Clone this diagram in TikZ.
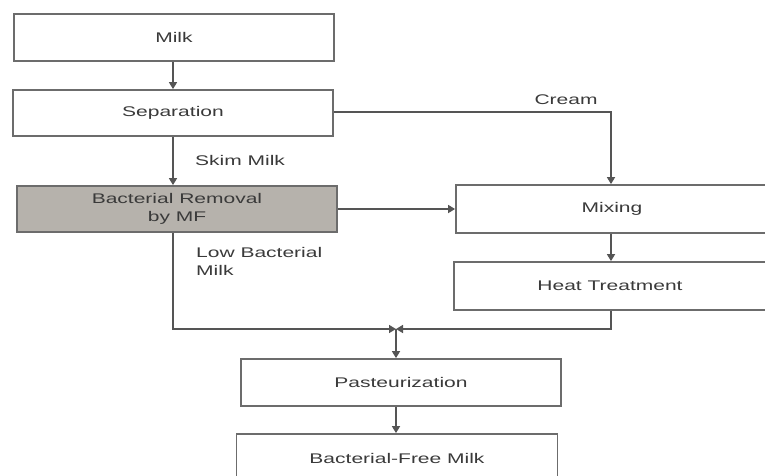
\documentclass[tikz,border=0pt]{standalone}
\usepackage{fontspec}
\setmainfont{Liberation Sans}[FakeStretch=1.5]
\usetikzlibrary{arrows.meta}
\definecolor{txtc}{HTML}{3A3A3A}
\definecolor{linec}{HTML}{555555}
\definecolor{boxc}{HTML}{6C6C6C}
\definecolor{grayfill}{HTML}{B6B2AC}
\tikzset{
  procbox/.style={draw=boxc, line width=1.8pt, rectangle, inner sep=0pt, text=txtc,
    font=\fontsize{14}{18}\selectfont, align=center},
  conn/.style={draw=linec, line width=1.6pt},
  arr/.style={conn, -{Triangle[length=7pt,width=8pt]}},
  lbl/.style={text=txtc, font=\fontsize{14}{18}\selectfont, inner sep=0pt, align=left}
}
\begin{document}
\begin{tikzpicture}[x=1pt,y=-1pt]
\useasboundingbox (0,0) rectangle (765,475);
\clip (0,0) rectangle (765,475);
\fill[white] (0,0) rectangle (765,475);
% boxes
\node[procbox, minimum width=320pt, minimum height=47pt] (milk) at (174,37.5) {Milk};
\node[procbox, minimum width=320pt, minimum height=46pt] (sep) at (173,113) {Separation};
\node[procbox, fill=grayfill, minimum width=320pt, minimum height=46pt] (br) at (177,209) {Bacterial Removal\\by MF};
\node[procbox, minimum width=312pt, minimum height=48pt] (mix) at (612,209) {Mixing};
\node[procbox, minimum width=312pt, minimum height=48pt] (heat) at (610,286) {Heat Treatment};
\node[procbox, minimum width=320pt, minimum height=47pt] (past) at (401,382.5) {Pasteurization};
\node[procbox, minimum width=321pt, minimum height=48pt] (bfm) at (397,458) {Bacterial-Free Milk};
% labels
\node[lbl, anchor=west] (skim) at (195,160) {Skim Milk};
\node[lbl, anchor=center] (cream) at (566,100) {Cream};
\node[lbl, anchor=north west] (low) at (196,247) {Low Bacterial\\Milk};
% coordinates
\coordinate (junc) at (396,329);
\coordinate (sepx) at (173,0);
\coordinate (crx) at (611,0);
% connectors
\draw[arr] (milk.south -| sepx) -- (sep.north -| sepx);
\draw[arr] (sep.south -| sepx) -- (br.north -| sepx);
\draw[arr] (sep.east |- 0,112) -| (mix.north -| crx);
\draw[arr] (br.east) -- (mix.west);
\draw[arr] (mix.south -| crx) -- (heat.north -| crx);
\draw[arr] (br.south -| sepx) |- (junc);
\draw[arr] (heat.south -| crx) |- (junc);
\draw[arr] (junc) -- (past.north -| junc);
\draw[arr] (past.south -| junc) -- (bfm.north -| junc);
\end{tikzpicture}
\end{document}
